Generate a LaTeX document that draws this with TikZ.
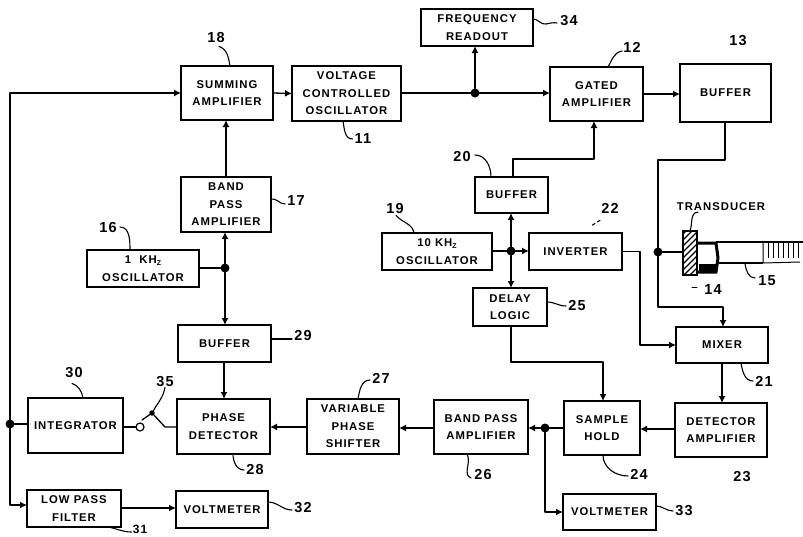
\documentclass[tikz,border=0pt]{standalone}
\usepackage{fontspec}
\setmainfont[LetterSpace=9]{Liberation Sans}
\usetikzlibrary{arrows.meta}
\tikzset{
  blk/.style={draw=black,line width=1.5pt,inner sep=0pt,outer sep=0pt,align=center,
    font=\fontsize{11.3}{17.5}\selectfont\bfseries},
  num/.style={inner sep=0pt,font=\fontsize{14.5}{15}\selectfont\bfseries},
  jn/.style={circle,fill=black,inner sep=0pt,outer sep=0pt,minimum size=9pt},
  wire/.style={line width=1.3pt,line cap=round,line join=round},
  arr/.style={wire,-{Latex[length=7pt,width=7pt]}},
  lead/.style={line width=1.1pt,line cap=round},
}
\newcommand{\bx}[6]{%
  \pgfmathsetmacro{\bw}{#4-#2}\pgfmathsetmacro{\bh}{#5-#3}%
  \pgfmathsetmacro{\bcx}{(#2+#4)/2}\pgfmathsetmacro{\bcy}{(#3+#5)/2}%
  \node[blk,minimum width=\bw pt,minimum height=\bh pt] (#1) at (\bcx,\bcy) {#6};}
\newcommand{\zsub}{\raisebox{-2pt}{\fontsize{7}{8}\selectfont Z}}
\begin{document}
\begin{tikzpicture}[x=1pt,y=-1pt]
\useasboundingbox (0,0) rectangle (803,536);
% blocks
\bx{b18}{181}{66}{273}{120}{SUMMING\\AMPLIFIER}
\bx{b11}{292}{66}{401}{121}{VOLTAGE\\CONTROLLED\\OSCILLATOR}
\bx{b34}{421}{9}{533}{46}{FREQUENCY\\READOUT}
\bx{b12}{550}{67}{643}{121}{GATED\\AMPLIFIER}
\bx{b13}{680}{64}{771}{122}{BUFFER}
\bx{b17}{181}{177}{271}{232}{BAND\\PASS\\AMPLIFIER}
\bx{b16}{87}{250}{199}{287}{1\ \ KH\zsub\\OSCILLATOR}
\bx{b19}{382}{233}{492}{270}{10 KH\zsub\\OSCILLATOR}
\bx{b20}{475}{177}{548}{213}{BUFFER}
\bx{b22}{529}{233}{622}{270}{INVERTER}
\bx{b25}{473}{288}{547}{326}{DELAY\\LOGIC}
\bx{b21}{676}{327}{768}{363}{MIXER}
\bx{b23}{675}{403}{767}{457}{DETECTOR\\AMPLIFIER}
\bx{b24}{564}{401}{640}{455}{SAMPLE\\HOLD}
\bx{b26}{434}{400}{528}{454}{BAND PASS\\AMPLIFIER}
\bx{b33}{563}{494}{656}{530}{VOLTMETER}
\bx{b27}{307}{399}{399}{454}{VARIABLE\\PHASE\\SHIFTER}
\bx{b28}{177}{399}{270}{454}{PHASE\\DETECTOR}
\bx{b29}{178}{325}{271}{362}{BUFFER}
\bx{b30}{28}{398}{123}{453}{INTEGRATOR}
\bx{b31}{27}{490}{121}{527}{LOW PASS\\FILTER}
\bx{b32}{176}{491}{268}{528}{VOLTMETER}
% junctions
\node[jn] (jA) at (475,93) {};
\node[jn] (jB) at (225,268) {};
\node[jn] (jC) at (511,251) {};
\node[jn] (jD) at (658,252) {};
\node[jn] (jE) at (545,428) {};
\node[jn] (jF) at (10,424) {};
\coordinate (cTop) at (10,93);
% transducer
\coordinate (hTL) at (683,231);
\coordinate (hBR) at (697,275);
\draw[line width=1.2pt] (hTL) rectangle (hBR);
\begin{scope}
\clip (hTL) rectangle (hBR);
\foreach \k in {0,6,...,66}{\draw[line width=1.3pt] (680,231+\k) -- (700,231+\k-20);}
\end{scope}
\draw[line width=3pt] (697,243) -- (716,243) -- (718,258) -- (716,272) -- (697,272);
\fill (699,264) rectangle (716,273);
\draw[line width=1.2pt] (716,242) -- (803,242);
\draw[line width=1.6pt] (716,263) -- (763,263);
\draw[line width=1pt] (763,242) -- (763,263) -- (800,262);
\foreach \x in {768,773,778,783,788,793,798}{\draw[line width=.8pt] (\x,243) -- (\x,258);}
\coordinate (tIn) at (683,252);
% connectors
\draw[arr] (cTop) -- (b18.west |- cTop);
\draw[wire] (jF.center) -- (cTop);
\draw[arr] (b18.east) -- (b11.west);
\draw[wire] (b11.east |- jA) -- (jA);
\draw[arr] (jA) -- (b12.west |- jA);
\draw[arr] (jA) -- (b34.south -| jA);
\draw[arr] (b12.east |- 0,94) -- (b13.west |- 0,94);
\draw[arr] (b17.north -| 226,0) -- (b18.south -| 226,0);
\draw[wire] (b16.east |- jB) -- (jB);
\draw[arr] (jB) -- (b17.south -| jB);
\draw[arr] (jB) -- (b29.north -| jB);
\draw[arr] (b29.south -| 224,0) -- (b28.north -| 224,0);
\draw[arr] (b27.west |- 0,427) -- (b28.east |- 0,427);
\draw[arr] (b26.west |- 0,428) -- (b27.east |- 0,428);
\draw[wire] (b24.west |- jE) -- (jE);
\draw[arr] (jE) -- (b26.east |- jE);
\draw[arr] (jE) |- (b33.west);
\draw[arr] (b23.west |- 0,429) -- (b24.east |- 0,429);
\draw[arr] (b21.south -| 722,0) -- (b23.north -| 722,0);
\draw[arr] (b25.south -| jC) -- (511,362) -| (b24.north -| 603,0);
\draw[wire] (b19.east |- jC) -- (jC);
\draw[arr] (jC) -- (b22.west |- jC);
\draw[arr] (jC) -- (b20.south -| jC);
\draw[arr] (jC) -- (b25.north -| jC);
\draw[arr] (b20.north -| 513,0) -- (513,159) -| (b12.south -| 594,0);
\draw[arr] (b22.east) -- (640,251.5) -- (640,345) -- (b21.west |- 0,345);
\draw[arr] (b13.south -| 725,0) -- (725,160) -- (658,160) -- (658,307) -- (723,307) -- (b21.north -| 723,0);
\draw[wire] (jD) -- (tIn);
\draw[wire] (b30.west |- jF) -- (jF);
\draw[arr] (jF) -- (10,505) -- (b31.west |- 0,505);
\draw[arr] (b31.east |- 0,508) -- (b32.west |- 0,508);
% switch 35
\node[circle,draw=black,line width=1.2pt,inner sep=0pt,minimum size=8pt] (sw) at (140,427) {};
\node[circle,fill=black,inner sep=0pt,minimum size=5.5pt] (swp) at (152,413) {};
\draw[wire] (b30.east |- sw) -- (sw);
\draw[wire] (b28.west |- sw) -- (165,427) -- (swp);
\draw[wire] (swp) -- (142,420);
% labels
\node[num] (n18) at (216,38) {18};
\node[num] (n11) at (363,139) {11};
\node[num] (n34) at (569,21) {34};
\node[num] (n12) at (632,47) {12};
\node[num] (n13) at (738,41) {13};
\node[num] (n17) at (296,201) {17};
\node[num] (n16) at (108,228) {16};
\node[num] (n19) at (395,209) {19};
\node[num] (n20) at (462,157) {20};
\node[num] (n22) at (610,208) {22};
\node[num] (n25) at (577,306) {25};
\node[num] (n21) at (764,381) {21};
\node[num] (n23) at (742,477) {23};
\node[num] (n24) at (639,474) {24};
\node[num] (n26) at (483,475) {26};
\node[num] (n33) at (684,511) {33};
\node[num] (n29) at (303,336) {29};
\node[num] (n27) at (381,378) {27};
\node[num] (n28) at (255,470) {28};
\node[num] (n30) at (74,373) {30};
\node[num] (n35) at (165,382) {35};
\node[num,font=\fontsize{12}{13}\selectfont\bfseries] (n31) at (140,529) {31};
\node[num] (n32) at (303,508) {32};
\node[num] (n14) at (713,290) {14};
\node[num] (n15) at (767,281) {15};
\node[num,font=\fontsize{11.3}{12}\selectfont\bfseries] (nT) at (721,207) {TRANSDUCER};
% leaders
\draw[lead] (n18.south) ++(3,3) to[out=-20,in=100] (b18.north -| 230,0);
\draw[lead] (n11.west) ++(-2,0) to[out=180,in=-80] (b11.south -| 343,0);
\draw[lead] (n34.west) ++(-3,2) to[out=170,in=10] (546,24) to[out=190,in=0] (b34.east |- 0,19);
\draw[lead] (n12.west) ++(-1,4) to[out=190,in=60] (b12.north -| 608,0);
\draw[lead] (n17.west) ++(-2,3) to[out=180,in=10] (b17.east |- 0,199);
\draw[lead] (n16.east) ++(3,-1) to[out=0,in=90] (b16.north -| 130,0);
\draw[lead] (n19.south) ++(1,1) to[out=-50,in=100] (b19.north -| 414,0);
\draw[lead] (n20.east) ++(4,-2) to[out=0,in=90] (b20.north -| 491,0);
\draw[lead,dashed] (n22.south) ++(-10,7) -- (591,226);
\draw[lead] (n25.west) ++(-2,0) to[out=180,in=0] (b25.east |- 0,302);
\draw[lead] (n21.west) ++(-2,0) to[out=180,in=-80] (b21.south -| 741,0);
\draw[lead] (n24.west) ++(-2,2) to[out=180,in=-90] (b24.south -| 603,0);
\draw[lead] (n26.west) ++(-3,3) to[out=160,in=-60] (b26.south -| 467,0);
\draw[lead] (n33.west) ++(-2,0) to[out=180,in=0] (b33.east |- 0,506);
\draw[lead] (n29.west) ++(-2,3) to[out=180,in=0] (b29.east |- 0,339);
\draw[lead] (n27.west) ++(-2,2) to[out=180,in=80] (b27.north -| 358,0);
\draw[lead] (n28.west) ++(-2,0) to[out=180,in=-90] (b28.south -| 233,0);
\draw[lead] (n30.south) ++(-2,5) to[out=-20,in=100] (b30.north -| 83,0);
\draw[lead] (swp) to[out=60,in=-100] (n35.south);
\draw[lead] (n31.west) ++(-1,3) to[out=180,in=-10] (b31.south -| 108,0);
\draw[lead] (n32.west) ++(-2,2) to[out=180,in=0] (b32.east |- 0,502);
\draw[lead] (n15.west) ++(-3,-3) to[out=180,in=-80] (745,264);
\draw[lead] (nT.south) ++(-23,1) to[out=180,in=70] (690,231);
\draw[line width=.8pt,line cap=round] (n14.west) ++(-12,-3) -- (697,287);
\end{tikzpicture}
\end{document}
